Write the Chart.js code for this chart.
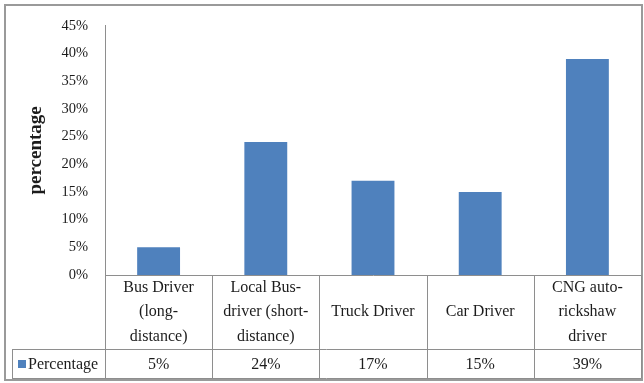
<!DOCTYPE html>
<html>
<head>
<meta charset="utf-8">
<script src="https://cdn.jsdelivr.net/npm/chart.js@4"></script>
<style>
  body { margin: 0; background: #fff; }
  #wrap { width: 644px; height: 383px; }
</style>
</head>
<body>
<div id="wrap"><canvas id="driverChart" width="644" height="383"></canvas></div>
<script>
// categories (each entry = lines of the table cell)
const categories = [
    ['Bus Driver', '(long-', 'distance)'],
    ['Local Bus-', 'driver (short-', 'distance)'],
    ['Truck Driver'],
    ['Car Driver'],
    ['CNG auto-', 'rickshaw', 'driver']
];
const percentages = [5, 24, 17, 15, 39];
const seriesName = 'Percentage';
const yMax = 45;
const yStep = 5;

const barColor = '#4f81bd';
const lineColor = '#8e8e8e';
const textColor = '#1c1c1c';
const serif = '"Liberation Serif", "Times New Roman", serif';

// frame round the whole chart
const framePlugin = {
    id: 'frame',
    beforeDraw(chart) {
        const ctx = chart.ctx;
        ctx.save();
        ctx.fillStyle = '#fff';
        ctx.fillRect(0, 0, chart.width, chart.height);
        ctx.strokeStyle = '#9a9a9a';
        ctx.lineWidth = 2;
        ctx.strokeRect(5, 5, chart.width - 7, chart.height - 8);
        ctx.restore();
    }
};

// data table under the plot, Excel style
const tablePlugin = {
    id: 'dataTable',
    afterDraw(chart) {
        const ctx = chart.ctx;
        const x = chart.scales.x;
        const top = chart.chartArea.bottom;
        const rowSplit = top + 74;
        const bottom = top + 103;
        const legendLeft = 12;
        const right = x.getPixelForValue(categories.length - 0.5);

        ctx.save();
        ctx.strokeStyle = lineColor;
        ctx.lineWidth = 1;
        ctx.beginPath();
        for (let i = 0; i <= categories.length; i++) {
            const px = Math.round(x.getPixelForValue(i - 0.5)) + 0.5;
            ctx.moveTo(px, top);
            ctx.lineTo(px, bottom);
        }
        ctx.moveTo(legendLeft + 0.5, rowSplit);
        ctx.lineTo(legendLeft + 0.5, bottom);
        ctx.moveTo(legendLeft, rowSplit + 0.5);
        ctx.lineTo(right, rowSplit + 0.5);
        ctx.moveTo(legendLeft, bottom + 0.5);
        ctx.lineTo(right, bottom + 0.5);
        ctx.stroke();

        ctx.fillStyle = textColor;
        ctx.font = '16px ' + serif;
        ctx.textAlign = 'center';
        ctx.textBaseline = 'middle';
        const lineH = 24.5;
        const midCat = (top + rowSplit) / 2;
        const midVal = (rowSplit + bottom) / 2 + 1;
        categories.forEach(function (lines, i) {
            const cx = x.getPixelForValue(i);
            const y0 = midCat - (lines.length - 1) * lineH / 2;
            lines.forEach(function (t, j) {
                ctx.fillText(t, cx, y0 + j * lineH);
            });
            ctx.fillText(percentages[i] + '%', cx, midVal);
        });

        // legend key
        ctx.fillStyle = barColor;
        ctx.fillRect(18, 360, 8, 8);
        ctx.fillStyle = textColor;
        ctx.textAlign = 'left';
        ctx.fillText(seriesName, 28, midVal);
        ctx.restore();
    }
};

new Chart(document.getElementById('driverChart'), {
    type: 'bar',
    data: {
        labels: categories.map(function (c) { return c.join(' '); }),
        datasets: [{
            label: seriesName,
            data: percentages,
            backgroundColor: barColor,
            borderWidth: 0,
            barPercentage: 0.4,
            categoryPercentage: 1
        }]
    },
    options: {
        responsive: false,
        animation: false,
        layout: {
            padding: { left: 6, right: 3, top: 20, bottom: 108 }
        },
        plugins: {
            legend: { display: false },
            tooltip: { enabled: false }
        },
        scales: {
            x: {
                ticks: { display: false },
                grid: { display: false, drawTicks: false },
                border: { display: true, color: lineColor, width: 1 },
                afterFit: function (s) { s.height = 0; }
            },
            y: {
                min: 0,
                max: yMax,
                ticks: {
                    stepSize: yStep,
                    padding: 17,
                    color: textColor,
                    font: { family: serif, size: 14.5 },
                    callback: function (v) { return v + '%'; }
                },
                grid: { display: false, drawTicks: false },
                border: { display: true, color: lineColor, width: 1 },
                title: {
                    display: true,
                    text: 'percentage',
                    color: textColor,
                    font: { family: serif, size: 19, weight: 'bold' },
                    padding: { top: 18.5, bottom: 0 }
                },
                afterFit: function (s) { s.width = 99; }
            }
        }
    },
    plugins: [framePlugin, tablePlugin]
});
</script>
</body>
</html>
